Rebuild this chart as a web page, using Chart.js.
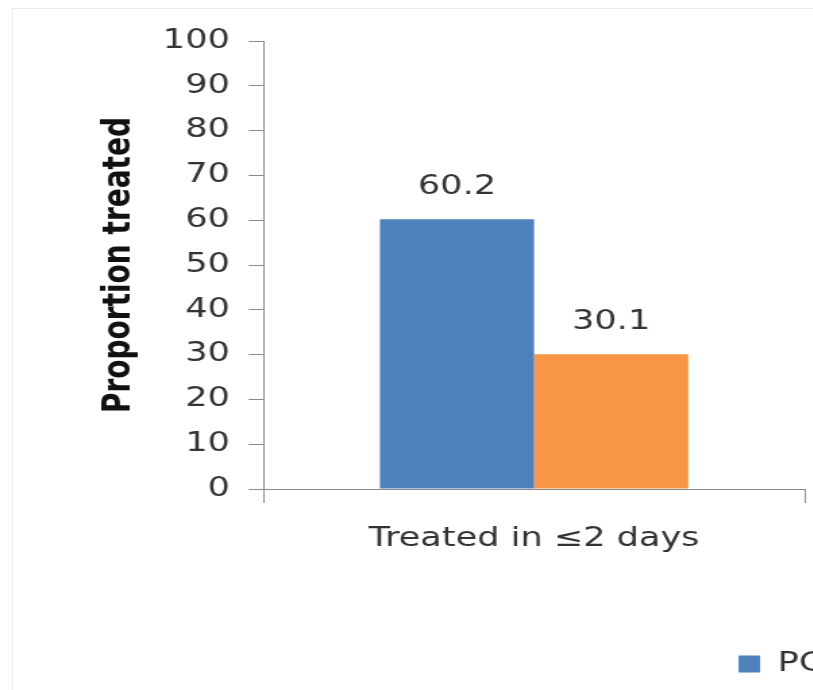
<!DOCTYPE html>
<html>
<head>
<meta charset="utf-8">
<script src="https://cdn.jsdelivr.net/npm/chart.js@4"></script>
<style>
  html, body { margin: 0; padding: 0; background: #fff; overflow: hidden; width: 813px; height: 690px; }
  #frame { position: absolute; left: 12px; top: 8px; right: -2px; bottom: -2px;
           border-top: 1px solid #ececec; border-left: 1px solid #ececec; }
  /* the figure is drawn in a narrower space and widened horizontally */
  #stage { position: absolute; left: 0; top: 0; transform: scaleX(1.35); transform-origin: 0 0; }
  canvas { display: block; }
</style>
</head>
<body>
<div id="frame"></div>
<div id="stage"><canvas id="chart" width="1218" height="690"></canvas></div>
<script>
// Categories, series and axis ticks
const categories = ['Treated in \u22642 days'];
const seriesLabels = ['PC', 'Control'];
const pcValues = [60.2];
const controlValues = [30.1];
const yTickValues = [0, 10, 20, 30, 40, 50, 60, 70, 80, 90, 100];

const CANVAS_W = 1218;
const PLOT_RIGHT = 596;
const FONT = '"DejaVu Sans", Verdana, sans-serif';
const AXIS_GREY = '#8a8a8a';
const TEXT_GREY = '#333333';

// Prints each bar's value above it
const valueLabels = {
  id: 'valueLabels',
  afterDatasetsDraw(chart) {
    const ctx = chart.ctx;
    ctx.save();
    ctx.font = '26px ' + FONT;
    ctx.fillStyle = TEXT_GREY;
    ctx.textAlign = 'center';
    ctx.textBaseline = 'alphabetic';
    chart.data.datasets.forEach((ds, i) => {
      chart.getDatasetMeta(i).data.forEach((bar, j) => {
        ctx.fillText(ds.data[j].toFixed(1), bar.x, bar.y - 25);
      });
    });
    ctx.restore();
  }
};

new Chart(document.getElementById('chart'), {
  type: 'bar',
  data: {
    labels: categories,
    datasets: [
      { label: seriesLabels[0], data: pcValues, backgroundColor: '#4F81BD', yAxisID: 'y' },
      { label: seriesLabels[1], data: controlValues, backgroundColor: '#F79646', yAxisID: 'y' }
    ]
  },
  options: {
    responsive: false,
    devicePixelRatio: 1,
    animation: false,
    categoryPercentage: 0.57,
    barPercentage: 1.0,
    layout: { padding: { left: 72, top: 41, right: 0, bottom: 3 } },
    plugins: {
      tooltip: { enabled: false },
      legend: {
        position: 'bottom',
        align: 'center',
        labels: {
          font: { family: FONT, size: 26 },
          color: TEXT_GREY,
          boxWidth: 16,
          boxHeight: 17,
          padding: 10
        }
      }
    },
    scales: {
      x: {
        type: 'category',
        offset: true,
        grid: { display: true, drawOnChartArea: false, offset: true, tickLength: 14, color: AXIS_GREY },
        border: { color: AXIS_GREY },
        ticks: { font: { family: FONT, size: 26 }, color: TEXT_GREY, padding: 21, maxRotation: 0 },
        afterFit(scale) { scale.height = 152; }
      },
      y: {
        position: 'left',
        min: yTickValues[0],
        max: yTickValues[yTickValues.length - 1],
        afterBuildTicks(scale) { scale.ticks = yTickValues.map(v => ({ value: v })); },
        grid: { display: true, drawOnChartArea: false, tickLength: 11, color: AXIS_GREY },
        border: { color: AXIS_GREY },
        ticks: { font: { family: FONT, size: 26 }, color: TEXT_GREY, padding: 14 },
        title: {
          display: true,
          text: 'Proportion treated',
          font: { family: FONT, size: 28, weight: 'bold' },
          color: '#111',
          padding: { top: 0, bottom: 1 }
        }
      },
      // empty right-hand axis that reserves the space beside the plot
      spacer: {
        position: 'right',
        display: true,
        grid: { display: false },
        border: { display: false },
        ticks: { display: false },
        afterFit(scale) { scale.width = CANVAS_W - PLOT_RIGHT; }
      }
    }
  },
  plugins: [valueLabels]
});
</script>
</body>
</html>
